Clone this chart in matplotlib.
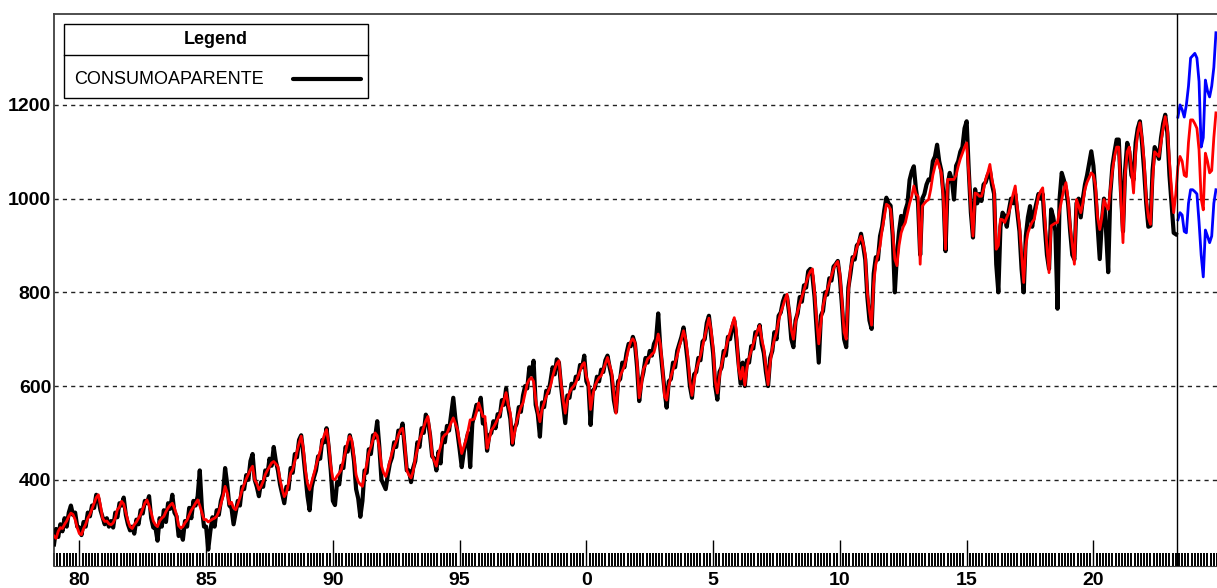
import numpy as np
import matplotlib
matplotlib.use("Agg")
import matplotlib.pyplot as plt
from matplotlib.patches import Rectangle
from matplotlib.lines import Line2D

# monthly series, starting Jan 1979 (one row per year)
inicio = 1979
consumo = [
    262, 295, 278, 305, 290, 318, 300, 330, 345, 325, 330, 300,
    298, 282, 310, 300, 330, 322, 345, 340, 368, 360, 335, 320,
    305, 318, 300, 312, 298, 330, 320, 350, 345, 362, 325, 305,
    292, 300, 285, 315, 305, 335, 328, 355, 350, 365, 318, 298,
    298, 270, 318, 300, 335, 310, 350, 338, 368, 330, 322, 280,
    290, 272, 312, 300, 340, 318, 355, 345, 365, 420, 340, 300,
    300, 251, 290, 320, 300, 335, 325, 355, 370, 425, 390, 345,
    340, 305, 330, 355, 345, 385, 380, 410, 400, 440, 455, 400,
    385, 365, 395, 385, 420, 410, 445, 430, 470, 440, 420, 390,
    370, 350, 385, 380, 425, 415, 455, 448, 485, 495, 455, 410,
    365, 335, 385, 405, 420, 450, 445, 485, 480, 510, 470, 420,
    355, 346, 395, 390, 430, 425, 470, 460, 495, 475, 440, 380,
    360, 321, 355, 420, 415, 465, 455, 495, 490, 525, 470, 400,
    390, 380, 410, 435, 448, 480, 470, 505, 500, 520, 468, 420,
    420, 395, 425, 440, 480, 470, 510, 500, 539, 525, 495, 450,
    445, 420, 460, 435, 500, 480, 515, 505, 540, 575, 530, 500,
    465, 427, 460, 480, 500, 427, 520, 540, 560, 550, 575, 520,
    520, 462, 495, 500, 525, 510, 540, 535, 570, 560, 595, 555,
    530, 475, 510, 520, 555, 545, 580, 600, 595, 640, 625, 654,
    560, 540, 492, 565, 555, 590, 585, 610, 640, 625, 657, 650,
    600, 560, 521, 580, 575, 605, 595, 620, 615, 645, 640, 665,
    610, 600, 517, 590, 595, 620, 610, 635, 630, 655, 665, 640,
    620, 570, 545, 610, 615, 650, 640, 670, 690, 685, 705, 690,
    640, 568, 610, 630, 660, 650, 675, 665, 690, 700, 755, 680,
    635, 590, 554, 610, 615, 650, 640, 675, 690, 705, 725, 690,
    650, 600, 575, 625, 630, 660, 655, 695, 700, 735, 750, 710,
    670, 600, 571, 630, 640, 675, 665, 705, 700, 725, 740, 700,
    650, 605, 650, 600, 655, 650, 685, 680, 715, 710, 730, 690,
    670, 630, 600, 660, 675, 715, 700, 750, 757, 780, 793, 790,
    755, 700, 683, 740, 755, 790, 780, 815, 810, 845, 850, 835,
    790, 720, 650, 750, 760, 800, 795, 830, 825, 855, 860, 867,
    830, 770, 700, 683, 810, 840, 875, 870, 900, 905, 925, 900,
    870, 790, 740, 722, 840, 875, 870, 920, 940, 975, 1002, 990,
    985, 920, 800, 880, 930, 963, 945, 975, 990, 1040, 1058, 1069,
    1020, 990, 880, 1000, 1010, 1030, 1041, 1040, 1080, 1090, 1115, 1080,
    1060, 1010, 888, 1030, 1055, 1040, 998, 1070, 1080, 1100, 1110, 1150,
    1165, 1060, 970, 917, 1020, 990, 1010, 995, 1030, 1035, 1050, 1060,
    1030, 1010, 860, 800, 940, 970, 963, 940, 975, 1000, 990, 1010,
    970, 930, 850, 800, 920, 960, 984, 940, 970, 990, 1010, 1000,
    1010, 940, 880, 850, 977, 960, 930, 765, 1000, 1055, 1040, 1020,
    990, 930, 880, 870, 990, 1000, 960, 1000, 1030, 1050, 1075, 1101,
    1070, 1010, 940, 871, 950, 1000, 930, 843, 1010, 1070, 1100, 1126,
    1126, 1020, 930, 1060, 1119, 1100, 1050, 1040, 1120, 1150, 1165, 1120,
    1060, 990, 940, 942, 1060, 1110, 1100, 1085, 1130, 1160, 1179, 1140,
    1050, 990, 927, 924,
]

ajuste = [
    280, 275, 290, 298, 296, 305, 312, 322, 329, 326, 315, 298,
    285, 283, 296, 305, 318, 326, 338, 350, 362, 368, 345, 318,
    311, 312, 306, 304, 308, 318, 336, 342, 354, 348, 330, 312,
    300, 296, 304, 310, 318, 326, 338, 350, 357, 345, 330, 312,
    304, 300, 312, 318, 322, 332, 340, 346, 350, 340, 326, 302,
    297, 300, 308, 314, 325, 335, 342, 350, 357, 345, 330, 315,
    315, 310, 313, 316, 318, 322, 332, 348, 365, 386, 372, 348,
    352, 340, 336, 348, 362, 378, 390, 402, 412, 422, 429, 400,
    392, 379, 386, 397, 411, 420, 428, 436, 439, 434, 428, 400,
    380, 364, 372, 392, 414, 422, 440, 460, 478, 493, 468, 420,
    392, 379, 396, 412, 429, 446, 462, 482, 496, 507, 478, 430,
    402, 400, 408, 414, 422, 442, 460, 480, 493, 484, 448, 410,
    396, 390, 386, 412, 432, 457, 470, 486, 500, 494, 468, 430,
    415, 407, 422, 440, 458, 471, 482, 495, 506, 510, 478, 420,
    410, 404, 418, 445, 465, 485, 498, 512, 526, 535, 500, 452,
    440, 429, 455, 471, 490, 496, 499, 510, 522, 532, 520, 507,
    480, 456, 470, 485, 505, 528, 528, 530, 545, 564, 550, 535,
    535, 467, 485, 506, 512, 520, 530, 540, 555, 570, 586, 560,
    542, 478, 500, 525, 540, 555, 564, 585, 605, 614, 618, 610,
    571, 545, 524, 550, 564, 578, 590, 600, 620, 636, 648, 654,
    607, 570, 542, 570, 586, 595, 600, 607, 620, 632, 645, 650,
    620, 607, 550, 580, 600, 610, 618, 622, 635, 648, 661, 645,
    629, 585, 542, 600, 622, 632, 643, 660, 680, 695, 701, 693,
    650, 575, 600, 636, 645, 658, 662, 668, 672, 690, 711, 690,
    643, 578, 570, 600, 620, 635, 650, 665, 685, 700, 718, 700,
    665, 610, 580, 610, 635, 650, 665, 685, 705, 725, 745, 720,
    680, 610, 585, 620, 645, 665, 680, 700, 715, 730, 746, 720,
    640, 615, 640, 602, 640, 660, 675, 690, 705, 718, 729, 700,
    680, 640, 603, 650, 680, 700, 715, 740, 757, 770, 785, 796,
    760, 720, 700, 735, 760, 775, 790, 805, 820, 835, 845, 850,
    800, 740, 690, 735, 770, 790, 805, 820, 835, 850, 860, 866,
    840, 780, 715, 700, 800, 850, 871, 880, 895, 910, 920, 905,
    880, 800, 760, 730, 820, 860, 880, 899, 934, 960, 988, 985,
    977, 930, 871, 857, 900, 927, 940, 949, 970, 990, 1005, 1027,
    1010, 1005, 860, 984, 990, 995, 998, 1020, 1050, 1069, 1083, 1070,
    1055, 1000, 892, 1041, 1041, 1041, 1041, 1050, 1069, 1085, 1097, 1110,
    1119, 1055, 980, 920, 1012, 1010, 1005, 1005, 1020, 1041, 1055, 1073,
    1040, 1020, 892, 900, 956, 955, 949, 960, 970, 990, 1010, 1027,
    980, 942, 880, 821, 900, 927, 940, 950, 956, 980, 1005, 1016,
    1023, 956, 900, 842, 942, 945, 948, 949, 975, 998, 1020, 1034,
    1000, 942, 900, 860, 998, 985, 970, 990, 1020, 1035, 1045, 1055,
    1050, 1027, 960, 934, 960, 998, 985, 977, 1020, 1060, 1090, 1110,
    1110, 1000, 906, 1050, 1100, 1110, 1060, 1012, 1100, 1140, 1162, 1130,
    1080, 1000, 960, 945, 1040, 1100, 1095, 1090, 1120, 1150, 1175, 1150,
    1080, 1020, 970, 1010,
]

# forecast May 2023 .. Nov 2024
pron_med = [1068, 1090, 1080, 1050, 1047, 1120, 1168, 1168, 1160, 1150,
            1104, 1000, 976, 1097, 1080, 1055, 1060, 1130, 1183]
pron_sup = [1174, 1200, 1190, 1174, 1200, 1240, 1300, 1305, 1310, 1300,
            1250, 1110, 1130, 1253, 1230, 1217, 1240, 1280, 1354]
pron_inf = [955, 970, 965, 930, 927, 990, 1019, 1019, 1015, 1010,
            950, 880, 833, 933, 920, 906, 920, 990, 1019]

corte = 2023.31
niveles = [400, 600, 800, 1000, 1200]
anios_ticks = [1980, 1985, 1990, 1995, 2000, 2005, 2010, 2015, 2020]
etiquetas_x = ['80', '85', '90', '95', '0', '5', '10', '15', '20']
serie_nombre = 'CONSUMOAPARENTE'

W, H = 1217, 588
fig = plt.figure(figsize=(W / 100, H / 100), dpi=100)
ax = fig.add_axes([54 / W, 22 / H, 1163 / W, 552 / H])

t_hist = inicio + np.arange(len(consumo)) / 12
t_pron = t_hist[-1] + (1 + np.arange(len(pron_med))) / 12

for lv in niveles:
    ax.axhline(lv, color='#222222', lw=1.0, ls=(0, (3, 3)), zorder=1)

ax.plot(t_pron, pron_sup, color='#0000ff', lw=2.0, zorder=3)
ax.plot(t_pron, pron_inf, color='#0000ff', lw=2.0, zorder=3)
ax.plot(t_hist, consumo, color='black', lw=3.0, zorder=4)
ax.plot(np.concatenate([t_hist, t_pron]), ajuste + pron_med,
        color='#ff0000', lw=2.0, zorder=5)
ax.axvline(corte, color='black', lw=1.0, zorder=6)

ax.set_xlim(1979.0, 1979.0 + 1163 / 25.4)
ax.set_ylim(216, 1394)

fuente = 'Liberation Sans'
ax.set_yticks(niveles)
ax.set_yticklabels([str(v) for v in niveles], fontsize=14, fontweight='bold',
                   family=fuente)
ax.tick_params(axis='y', length=0, pad=2)
ax.set_xticks(anios_ticks)
ax.set_xticklabels(etiquetas_x, fontsize=14, fontweight='bold', family=fuente)
ax.set_xticks(np.arange(1979, 2025, 1 / 8), minor=True)
ax.tick_params(axis='x', which='major', direction='in', length=19, width=1,
               pad=4)
ax.tick_params(axis='x', which='minor', direction='in', length=9.5, width=1.4)

for s in ['left', 'top']:
    ax.spines[s].set_color('#404040')
    ax.spines[s].set_linewidth(1.3)
ax.spines['bottom'].set_color('#404040')
ax.spines['right'].set_visible(False)


# legend box drawn in pixel coords of the figure
def px(x, y):
    return x / W, 1 - y / H


x0, y0 = px(64, 98)
fig.patches.append(Rectangle((x0, y0), 304 / W, 74 / H, transform=fig.transFigure,
                             facecolor='white', edgecolor='black', lw=1.0,
                             zorder=10))
fig.lines.append(Line2D([px(64, 0)[0], px(368, 0)[0]], [px(0, 55)[1]] * 2,
                        transform=fig.transFigure, color='black', lw=1.0,
                        zorder=11))
fig.lines.append(Line2D([px(293, 0)[0], px(361, 0)[0]], [px(0, 79)[1]] * 2,
                        transform=fig.transFigure, color='black', lw=3.0,
                        solid_capstyle='round', zorder=11))
fig.text(*px(216, 40), 'Legend', ha='center', va='center', fontsize=13,
         fontweight='bold', family=fuente, zorder=12)
fig.text(*px(74, 79), serie_nombre, ha='left', va='center', fontsize=13,
         family=fuente, zorder=12)

fig.savefig('out.png', dpi=100)
